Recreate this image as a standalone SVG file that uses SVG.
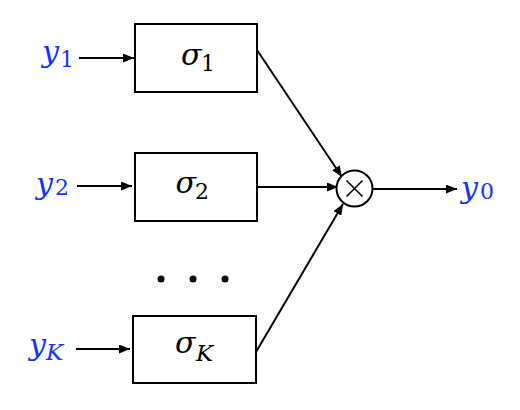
<svg xmlns="http://www.w3.org/2000/svg" width="520" height="410" viewBox="0 0 520 410">
<style>
.box{fill:#fff;stroke:#000;stroke-width:2}
.wire{fill:none;stroke:#000;stroke-width:2}
.m{font-family:"DejaVu Serif","Liberation Serif",serif;font-style:italic;font-size:30px;fill:#000}
.s{font-family:"DejaVu Serif","Liberation Serif",serif;font-size:22px;fill:#000}
.si{font-family:"DejaVu Serif","Liberation Serif",serif;font-style:italic;font-size:23px;fill:#000}
.blue{fill:#1433ff}
</style>
<defs>
<marker id="ah" markerUnits="userSpaceOnUse" markerWidth="11" markerHeight="9" refX="11" refY="4.5" orient="auto">
<path d="M0,0 L11,4.5 L0,9 z" fill="#000"/>
</marker>
</defs>
<rect width="520" height="410" fill="#fff"/>
<g id="connectors">
<line class="wire" x1="79" y1="58" x2="134" y2="58" marker-end="url(#ah)"/>
<line class="wire" x1="77" y1="186" x2="132" y2="186" marker-end="url(#ah)"/>
<line class="wire" x1="76" y1="349" x2="130" y2="349" marker-end="url(#ah)"/>
<line class="wire" x1="257" y1="50" x2="342" y2="177" marker-end="url(#ah)"/>
<line class="wire" x1="257" y1="187" x2="338" y2="187" marker-end="url(#ah)"/>
<line class="wire" x1="256" y1="352" x2="343" y2="204" marker-end="url(#ah)"/>
<line class="wire" x1="373" y1="189" x2="457" y2="189" marker-end="url(#ah)"/>
</g>
<g id="in1">
<text class="m blue" x="42" y="62">y</text><text class="s blue" x="60" y="67">1</text>
</g>
<g id="in2">
<text class="m blue" x="36" y="193.5">y</text><text class="s blue" x="55" y="195">2</text>
</g>
<g id="inK">
<text class="m blue" x="29" y="355">y</text><text class="si blue" x="46" y="360">K</text>
</g>
<g id="sigma1">
<rect class="box" x="135" y="24" width="122" height="68"/>
<text class="m" x="181" y="65">σ</text><text class="s" x="201" y="71">1</text>
</g>
<g id="sigma2">
<rect class="box" x="135" y="153" width="122" height="68"/>
<text class="m" x="175.5" y="193.3">σ</text><text class="s" x="195" y="199">2</text>
</g>
<g id="sigmaK">
<rect class="box" x="133" y="316" width="123" height="67"/>
<text class="m" x="175" y="353.3">σ</text><text class="si" x="196" y="361">K</text>
</g>
<g id="dots">
<circle cx="161" cy="279" r="3.5" fill="#000"/>
<circle cx="193" cy="279" r="3.5" fill="#000"/>
<circle cx="225" cy="279" r="3.5" fill="#000"/>
</g>
<g id="mult">
<circle cx="354.5" cy="188.5" r="18" fill="#fff" stroke="#000" stroke-width="2"/>
<line x1="346.5" y1="180.5" x2="362.5" y2="196.5" stroke="#000" stroke-width="1.6"/>
<line x1="362.5" y1="180.5" x2="346.5" y2="196.5" stroke="#000" stroke-width="1.6"/>
</g>
<g id="out">
<text class="m blue" x="461" y="197.7">y</text><text class="s blue" x="480" y="198.5">0</text>
</g>
</svg>
